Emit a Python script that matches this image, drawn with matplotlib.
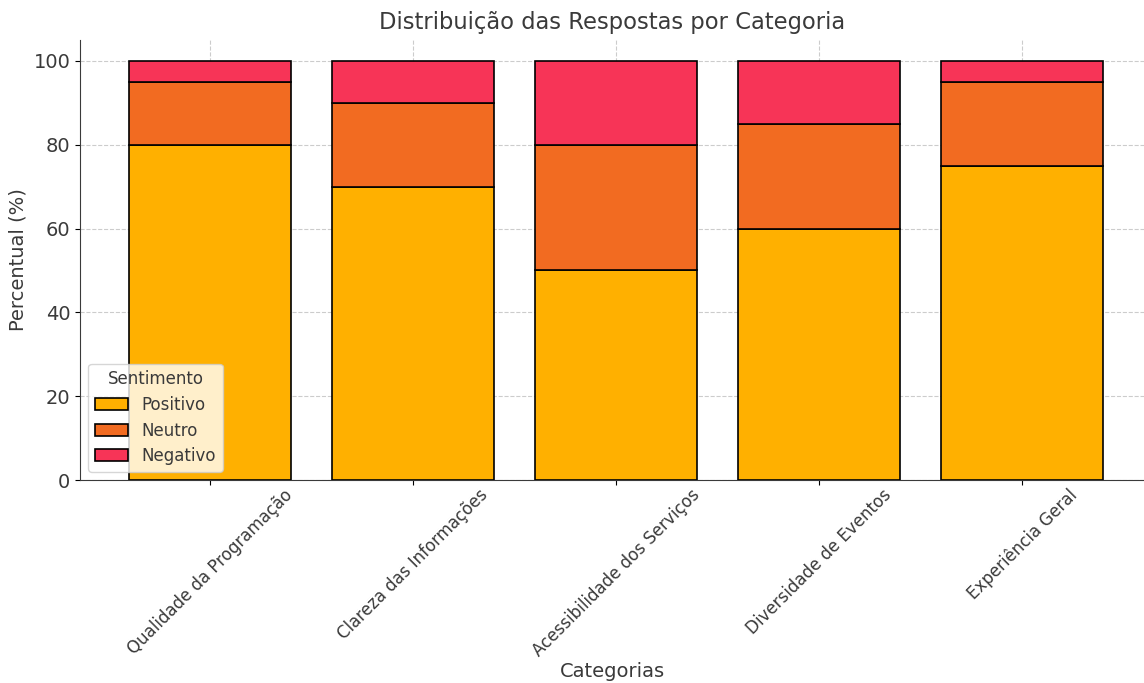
import matplotlib
matplotlib.use('Agg')
from matplotlib import pyplot as plt
import numpy as np

categorias = ['Qualidade da Programação', 'Clareza das Informações',
              'Acessibilidade dos Serviços', 'Diversidade de Eventos', 'Experiência Geral']
positivo = [80, 70, 50, 60, 75]
neutro = [15, 20, 30, 25, 20]
negativo = [5, 10, 20, 15, 5]

cores = {'Positivo': '#FFB000', 'Neutro': '#F26B21', 'Negativo': '#F73457'}
texto = '#3a3a3a'

fig = plt.figure(figsize=(11.44, 6.83), dpi=100)
ax = fig.add_axes([80 / 1144, 1 - 480 / 683, (1144 - 80) / 1144, (480 - 40) / 683])

x = np.arange(len(categorias))
base2 = np.array(positivo) + np.array(neutro)
ax.bar(x, positivo, 0.8, color=cores['Positivo'], edgecolor='black', linewidth=1.2, label='Positivo', zorder=2)
ax.bar(x, neutro, 0.8, bottom=positivo, color=cores['Neutro'], edgecolor='black', linewidth=1.2, label='Neutro', zorder=2)
ax.bar(x, negativo, 0.8, bottom=base2, color=cores['Negativo'], edgecolor='black', linewidth=1.2, label='Negativo', zorder=2)

ax.set_xlim(-0.64, 4.6)
ax.set_ylim(0, 105)
ax.set_xticks(x)
ax.set_xticklabels(categorias, rotation=45, fontsize=12, color=texto)
ax.tick_params(axis='x', pad=1)
ax.tick_params(axis='y', labelsize=14, labelcolor=texto)
ax.set_yticks([0, 20, 40, 60, 80, 100])
ax.grid(True, linestyle='--', color='#cccccc', linewidth=0.8, zorder=0)
ax.set_axisbelow(True)
for s in ['top', 'right']:
    ax.spines[s].set_visible(False)
ax.spines['left'].set_color(texto)
ax.spines['bottom'].set_color(texto)

ax.set_title('Distribuição das Respostas por Categoria', fontsize=16.3, color=texto, pad=8)
ax.set_xlabel('Categorias', fontsize=14, color=texto, labelpad=1)
ax.set_ylabel('Percentual (%)', fontsize=14, color=texto)
leg = ax.legend(title='Sentimento', loc='lower left', fontsize=12, title_fontsize=12,
                framealpha=0.8, labelspacing=0.45)
for t in leg.get_texts():
    t.set_color(texto)
leg.get_title().set_color(texto)

fig.savefig('out.png', dpi=100)
